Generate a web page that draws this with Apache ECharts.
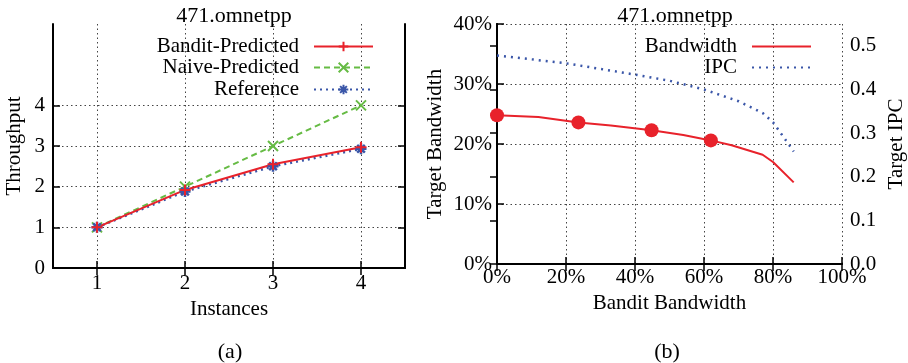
<!DOCTYPE html>
<html><head><meta charset="utf-8">
<script src="https://cdn.jsdelivr.net/npm/echarts@6/dist/echarts.min.js"></script>
<style>html,body{margin:0;padding:0;background:#fff}#c{width:908px;height:363px}</style>
</head><body><div id="c"></div>
<script>
// ---- data: panel (a)
const instances = [1, 2, 3, 4];
const banditPredicted = [1.0, 1.92, 2.55, 2.97];
const naivePredicted = [1.0, 2.0, 3.0, 4.0];
const referenceTput = [1.0, 1.88, 2.50, 2.93];
const tputTicks = [0, 1, 2, 3, 4];
// ---- data: panel (b)
const bwX = [0, 12, 23.6, 33, 44.8, 54, 62, 68, 77, 80, 86];
const targetBw = [24.8, 24.5, 23.6, 23.1, 22.3, 21.5, 20.6, 19.8, 18.2, 17.0, 13.6];
const markerX = [0, 23.6, 44.8, 62];
const markerBw = [24.8, 23.6, 22.3, 20.6];
const ipcX = [0, 10, 20, 30, 40, 50, 60, 70, 77, 80, 86];
const targetIpc = [0.478, 0.469, 0.460, 0.447, 0.434, 0.420, 0.400, 0.373, 0.346, 0.325, 0.258];
const ipcTicks = [0, 0.1, 0.2, 0.3, 0.4, 0.5];

const FONT = 'Liberation Serif';
const RED = '#e8222b', GREEN = '#66bb44', BLUE = '#3a56a8';
const pairs = (xs, ys) => xs.map((x, i) => [x, ys[i]]);
const txt = {fontFamily: FONT, fontSize: 21, color: '#000'};
const ttl = {fontFamily: FONT, fontSize: 22, color: '#000', fontWeight: 'normal'};
const axisLine = {show: true, lineStyle: {color: '#000', width: 2}};
const grid = {show: true, lineStyle: {color: '#444', width: 1, type: [1.5, 3]}};
const tick = (extra) => Object.assign({show: true, inside: true, length: 7, lineStyle: {color: '#000', width: 1.5}}, extra || {});

const PLUS = 'path://M5,0L5,10M0,5L10,5';
const CROSS = 'path://M0,0L10,10M10,0L0,10';
const STAR = 'path://M5,0L5,10M0,5L10,5M1.5,1.5L8.5,8.5M8.5,1.5L1.5,8.5';

const legendBase = (name, right, top, hideSym) => {
  const l = {
    data: [name], right: right, top: top, orient: 'vertical', align: 'right',
    itemWidth: 59, itemHeight: 12, selectedMode: false,
    textStyle: Object.assign({padding: [0, 10, 0, 0]}, txt)
  };
  if (hideSym) l.itemStyle = {opacity: 0};
  return l;
};

const option = {
  animation: false,
  title: [
    {text: '471.omnetpp', left: 229, top: 0, textAlign: 'center', textStyle: ttl},
    {text: '471.omnetpp', left: 670, top: 0, textAlign: 'center', textStyle: ttl},
    {text: '(a)', left: 225, top: 336, textAlign: 'center', textStyle: ttl},
    {text: '(b)', left: 662, top: 336, textAlign: 'center', textStyle: ttl}
  ],
  legend: [
    legendBase('Bandit-Predicted', 529, 31),
    legendBase('Naive-Predicted', 529, 52),
    legendBase('Reference', 529, 74),
    legendBase('Bandwidth', 91, 31, true),
    legendBase('IPC', 91, 52, true)
  ],
  grid: [
    {left: 53, right: 503, top: 24, bottom: 95},
    {left: 497, right: 65, top: 24, bottom: 99}
  ],
  xAxis: [
    {gridIndex: 0, type: 'value', min: 0.5, max: 4.5, position: 'bottom',
     axisLine: axisLine, axisTick: tick({customValues: instances}),
     axisLabel: Object.assign({customValues: instances, margin: 5}, txt),
     splitLine: grid, name: 'Instances', nameLocation: 'middle', nameGap: 27, nameTextStyle: txt},
    {gridIndex: 0, type: 'value', min: 0.5, max: 4.5, position: 'top',
     axisLine: axisLine, axisTick: tick({customValues: instances}), axisLabel: {show: false}, splitLine: {show: false}},
    {gridIndex: 1, type: 'value', min: 0, max: 100, interval: 20, position: 'bottom',
     axisLine: axisLine, axisTick: tick(),
     axisLabel: Object.assign({margin: 3, formatter: v => v + '%'}, txt),
     splitLine: grid, name: 'Bandit Bandwidth', nameLocation: 'middle', nameGap: 29, nameTextStyle: txt},
    {gridIndex: 1, type: 'value', min: 0, max: 100, interval: 20, position: 'top',
     axisLine: axisLine, axisTick: tick(), axisLabel: {show: false}, splitLine: {show: false}}
  ],
  yAxis: [
    {gridIndex: 0, type: 'value', min: 0, max: 6, position: 'left',
     axisLine: axisLine, axisTick: tick({customValues: tputTicks}),
     axisLabel: Object.assign({customValues: tputTicks, margin: 8}, txt),
     splitLine: grid, name: 'Throughput', nameLocation: 'middle', nameGap: 28, nameRotate: 90, nameTextStyle: txt},
    {gridIndex: 0, type: 'value', min: 0, max: 6, position: 'right',
     axisLine: axisLine, axisTick: tick({customValues: tputTicks}), axisLabel: {show: false}, splitLine: {show: false}},
    {gridIndex: 1, type: 'value', min: 0, max: 40, interval: 10, position: 'left',
     axisLine: axisLine, axisTick: tick(),
     axisLabel: Object.assign({margin: 5, formatter: v => v + '%'}, txt),
     splitLine: grid, name: 'Target Bandwidth', nameLocation: 'middle', nameGap: 51, nameRotate: 90, nameTextStyle: txt},
    {gridIndex: 1, type: 'value', min: 0, max: 0.55, position: 'right',
     axisLine: axisLine, axisTick: tick({customValues: ipcTicks}),
     axisLabel: Object.assign({customValues: ipcTicks, margin: 8, formatter: v => v.toFixed(1)}, txt),
     splitLine: {show: false}, name: 'Target IPC', nameLocation: 'middle', nameGap: 44, nameRotate: 90, nameTextStyle: txt}
  ],
  series: [
    {name: 'Naive-Predicted', type: 'line', xAxisIndex: 0, yAxisIndex: 0, data: pairs(instances, naivePredicted),
     symbol: CROSS, symbolSize: 10, showAllSymbol: true,
     lineStyle: {color: GREEN, width: 2, type: [6, 4]},
     itemStyle: {color: 'rgba(0,0,0,0)', borderColor: GREEN, borderWidth: 2}},
    {name: 'Reference', type: 'line', xAxisIndex: 0, yAxisIndex: 0, data: pairs(instances, referenceTput),
     symbol: STAR, symbolSize: 11,
     lineStyle: {color: BLUE, width: 2.5, type: [2, 4]},
     itemStyle: {color: 'rgba(0,0,0,0)', borderColor: BLUE, borderWidth: 2.5}},
    {name: 'Bandit-Predicted', type: 'line', xAxisIndex: 0, yAxisIndex: 0, data: pairs(instances, banditPredicted),
     symbol: PLUS, symbolSize: 11,
     lineStyle: {color: RED, width: 2},
     itemStyle: {color: 'rgba(0,0,0,0)', borderColor: RED, borderWidth: 2}},
    {name: 'IPC', type: 'line', xAxisIndex: 2, yAxisIndex: 3, data: pairs(ipcX, targetIpc),
     symbol: 'none', lineStyle: {color: BLUE, width: 2.5, type: [2, 5]}, itemStyle: {color: BLUE}},
    {name: 'Bandwidth', type: 'line', xAxisIndex: 2, yAxisIndex: 2, data: pairs(bwX, targetBw),
     symbol: 'none', lineStyle: {color: RED, width: 2}, itemStyle: {color: RED}},
    {name: 'BandwidthMarks', type: 'scatter', xAxisIndex: 2, yAxisIndex: 2, data: pairs(markerX, markerBw),
     symbol: 'circle', symbolSize: 14, itemStyle: {color: RED, opacity: 1}, z: 5}
  ]
};
const chart = echarts.init(document.getElementById('c'), null, {renderer: 'canvas'});
chart.setOption(option);
</script></body></html>
